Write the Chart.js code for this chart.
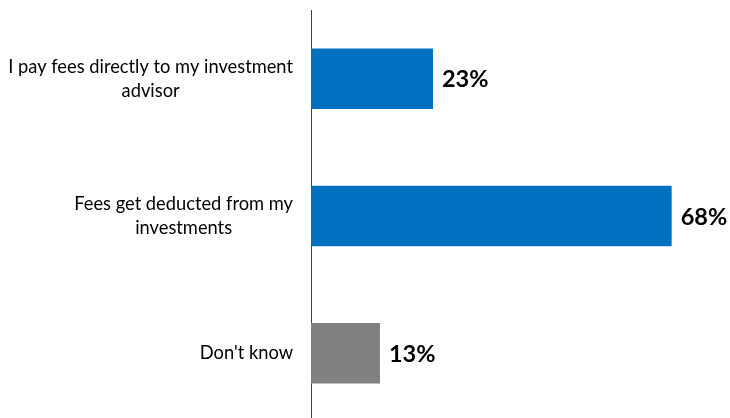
<!DOCTYPE html>
<html>
<head>
<meta charset="utf-8">
<script src="https://cdn.jsdelivr.net/npm/chart.js@4/dist/chart.umd.min.js"></script>
<style>
  html, body { margin: 0; padding: 0; background: #fff; overflow: hidden; }
  #wrap { width: 730px; height: 418px; overflow: hidden; }
  canvas { display: block; }
</style>
</head>
<body>
<div id="wrap"><canvas id="c" width="730" height="422"></canvas></div>
<script>
const categories = [
  ["I pay fees directly to my investment", "advisor"],
  ["Fees get deducted from my", "investments"],
  ["Don't know"]
];
const values = [23, 68, 13];
const barColors = ["#0070C0", "#0070C0", "#808080"];
const valueLabels = ["23%", "68%", "13%"];

const labelFont = '18.3px Lato';
const valueFont = 'bold 23.5px Lato';

const labelPlugin = {
  id: 'labels',
  afterDatasetsDraw(chart) {
    const ctx = chart.ctx;
    const xs = chart.scales.x, ys = chart.scales.y;
    ctx.save();
    ctx.font = labelFont;
    ctx.fillStyle = '#000';
    ctx.textBaseline = 'middle';
    ctx.textAlign = 'center';
    const rightX = 293, lh = 24;
    categories.forEach((lines, i) => {
      const w = Math.max(...lines.map(l => ctx.measureText(l).width));
      const cx = rightX - w / 2;
      const cy = ys.getPixelForValue(i);
      lines.forEach((l, j) => {
        ctx.fillText(l, cx, cy + (j - (lines.length - 1) / 2) * lh);
      });
    });
    ctx.font = valueFont;
    ctx.textAlign = 'left';
    values.forEach((v, i) => {
      ctx.fillText(valueLabels[i], xs.getPixelForValue(v) + 9, ys.getPixelForValue(i) + 1);
    });
    ctx.restore();
  }
};

new Chart(document.getElementById('c'), {
  type: 'bar',
  data: {
    labels: categories,
    datasets: [{
      data: values,
      backgroundColor: barColors,
      borderWidth: 0,
      barPercentage: 0.44,
      categoryPercentage: 1
    }]
  },
  options: {
    indexAxis: 'y',
    responsive: false,
    animation: false,
    devicePixelRatio: 1,
    layout: { padding: { top: 10, right: 0, bottom: 0, left: 0 } },
    plugins: { legend: { display: false }, tooltip: { enabled: false } },
    scales: {
      x: { display: false, min: 0, max: 79 },
      y: {
        type: 'category',
        grid: { display: false },
        border: { display: true, color: '#404040', width: 1 },
        ticks: { display: false },
        afterFit(scale) { scale.width = 311; }
      }
    }
  },
  plugins: [labelPlugin]
});
</script>
</body>
</html>
